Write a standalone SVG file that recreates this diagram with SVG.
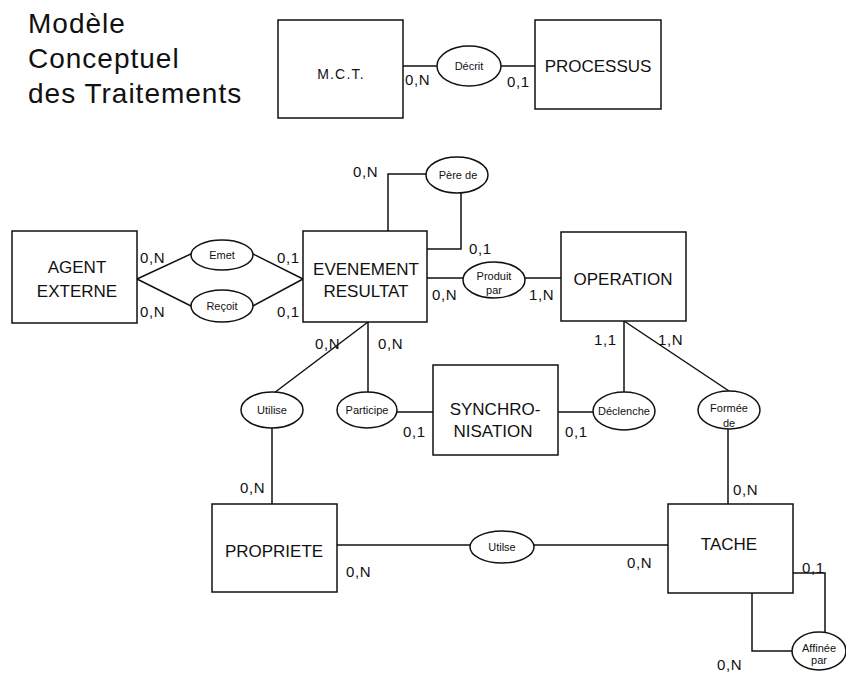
<svg xmlns="http://www.w3.org/2000/svg" width="846" height="673" viewBox="0 0 846 673">
<style>
  text { font-family: "Liberation Sans", Arial, sans-serif; fill: #111; }
  .title { font-size: 28px; letter-spacing: 1px; }
  .box { fill: #fff; stroke: #111; stroke-width: 1.5; }
  .rel { fill: #fff; stroke: #111; stroke-width: 1.5; }
  .bl { font-size: 17px; text-anchor: middle; }
  .rl { font-size: 11px; text-anchor: middle; }
  .card { font-size: 15px; letter-spacing: 0.6px; }
  .conn { fill: none; stroke: #111; stroke-width: 1.5; }
</style>
<rect width="846" height="673" fill="#fff"/>

<g id="title">
  <text class="title" x="28" y="33">Modèle</text>
  <text class="title" x="28" y="68">Conceptuel</text>
  <text class="title" x="28" y="103">des Traitements</text>
</g>

<g id="connectors">
  <line class="conn" x1="403" y1="66" x2="437" y2="66"/>
  <line class="conn" x1="501" y1="66" x2="535" y2="66"/>
  <line class="conn" x1="137" y1="279" x2="193" y2="253"/>
  <line class="conn" x1="137" y1="279" x2="193" y2="307"/>
  <line class="conn" x1="251" y1="253" x2="303" y2="279"/>
  <line class="conn" x1="251" y1="307" x2="303" y2="279"/>
  <polyline class="conn" points="388,231 388,174 426,174"/>
  <polyline class="conn" points="461,193 461,249 427,249"/>
  <line class="conn" x1="427" y1="278" x2="463" y2="278"/>
  <line class="conn" x1="525" y1="278" x2="561" y2="278"/>
  <line class="conn" x1="368" y1="322" x2="274" y2="393"/>
  <line class="conn" x1="368" y1="322" x2="368" y2="392"/>
  <line class="conn" x1="272" y1="428" x2="272" y2="504"/>
  <line class="conn" x1="397" y1="412" x2="433" y2="412"/>
  <line class="conn" x1="558" y1="412" x2="593" y2="412"/>
  <line class="conn" x1="624" y1="321" x2="624" y2="392"/>
  <line class="conn" x1="624" y1="321" x2="729" y2="391"/>
  <line class="conn" x1="728" y1="429" x2="728" y2="504"/>
  <line class="conn" x1="337" y1="545" x2="470" y2="545"/>
  <line class="conn" x1="534" y1="545" x2="668" y2="545"/>
  <polyline class="conn" points="793,573 825,573 825,632"/>
  <polyline class="conn" points="752,593 752,651 792,651"/>
</g>

<g id="mct">
  <rect class="box" x="278" y="20" width="125" height="98"/>
  <text class="bl" x="341" y="79" style="font-size:14px;letter-spacing:1.2px">M.C.T.</text>
</g>
<g id="decrit">
  <ellipse class="rel" cx="469" cy="66" rx="32" ry="20"/>
  <text class="rl" x="469" y="70">Décrit</text>
</g>
<g id="processus">
  <rect class="box" x="535" y="20" width="126" height="89"/>
  <text class="bl" x="598" y="72">PROCESSUS</text>
</g>

<g id="agent-externe">
  <rect class="box" x="12" y="231" width="125" height="92"/>
  <text class="bl" x="77" y="273">AGENT</text>
  <text class="bl" x="77" y="297">EXTERNE</text>
</g>
<g id="emet">
  <ellipse class="rel" cx="222" cy="255" rx="31" ry="15"/>
  <text class="rl" x="222" y="259">Emet</text>
</g>
<g id="recoit">
  <ellipse class="rel" cx="222" cy="306" rx="31" ry="16"/>
  <text class="rl" x="222" y="310">Reçoit</text>
</g>

<g id="evenement-resultat">
  <rect class="box" x="303" y="231" width="124" height="91"/>
  <text class="bl" x="366" y="275">EVENEMENT</text>
  <text class="bl" x="366" y="297">RESULTAT</text>
</g>
<g id="pere-de">
  <ellipse class="rel" cx="457" cy="175" rx="31" ry="18"/>
  <text class="rl" x="458" y="179">Père de</text>
</g>
<g id="produit-par">
  <ellipse class="rel" cx="494" cy="280" rx="31" ry="18"/>
  <text class="rl" x="494" y="280">Produit</text>
  <text class="rl" x="494" y="294">par</text>
</g>
<g id="operation">
  <rect class="box" x="561" y="232" width="125" height="89"/>
  <text class="bl" x="623" y="285">OPERATION</text>
</g>

<g id="utilise-1">
  <ellipse class="rel" cx="272" cy="410" rx="31" ry="18"/>
  <text class="rl" x="272" y="414">Utilise</text>
</g>
<g id="participe">
  <ellipse class="rel" cx="367" cy="410" rx="30" ry="18"/>
  <text class="rl" x="367" y="414">Participe</text>
</g>
<g id="synchronisation">
  <rect class="box" x="433" y="365" width="125" height="90"/>
  <text class="bl" x="495" y="415">SYNCHRO-</text>
  <text class="bl" x="493" y="437">NISATION</text>
</g>
<g id="declenche">
  <ellipse class="rel" cx="624" cy="411" rx="31" ry="19"/>
  <text class="rl" x="624" y="415">Déclenche</text>
</g>
<g id="formee-de">
  <ellipse class="rel" cx="729" cy="410" rx="31" ry="19"/>
  <text class="rl" x="729" y="412">Formée</text>
  <text class="rl" x="729" y="427">de</text>
</g>

<g id="propriete">
  <rect class="box" x="212" y="504" width="125" height="88"/>
  <text class="bl" x="274" y="557">PROPRIETE</text>
</g>
<g id="utilse-2">
  <ellipse class="rel" cx="502" cy="547" rx="32" ry="16"/>
  <text class="rl" x="502" y="551">Utilse</text>
</g>
<g id="tache">
  <rect class="box" x="668" y="504" width="125" height="89"/>
  <text class="bl" x="729" y="550">TACHE</text>
</g>
<g id="affinee-par">
  <ellipse class="rel" cx="819" cy="651" rx="27" ry="19"/>
  <text class="rl" x="819" y="652">Affinée</text>
  <text class="rl" x="819" y="664">par</text>
</g>

<g id="cardinalities">
  <text class="card" x="405" y="85">0,N</text>
  <text class="card" x="507" y="87">0,1</text>
  <text class="card" x="353" y="177">0,N</text>
  <text class="card" x="140" y="263">0,N</text>
  <text class="card" x="277" y="263">0,1</text>
  <text class="card" x="140" y="317">0,N</text>
  <text class="card" x="277" y="317">0,1</text>
  <text class="card" x="469" y="254">0,1</text>
  <text class="card" x="432" y="300">0,N</text>
  <text class="card" x="529" y="300">1,N</text>
  <text class="card" x="315" y="349">0,N</text>
  <text class="card" x="378" y="349">0,N</text>
  <text class="card" x="594" y="345">1,1</text>
  <text class="card" x="658" y="345">1,N</text>
  <text class="card" x="403" y="437">0,1</text>
  <text class="card" x="565" y="437">0,1</text>
  <text class="card" x="240" y="493">0,N</text>
  <text class="card" x="733" y="495">0,N</text>
  <text class="card" x="346" y="577">0,N</text>
  <text class="card" x="627" y="568">0,N</text>
  <text class="card" x="802" y="573">0,1</text>
  <text class="card" x="717" y="670">0,N</text>
</g>
</svg>
